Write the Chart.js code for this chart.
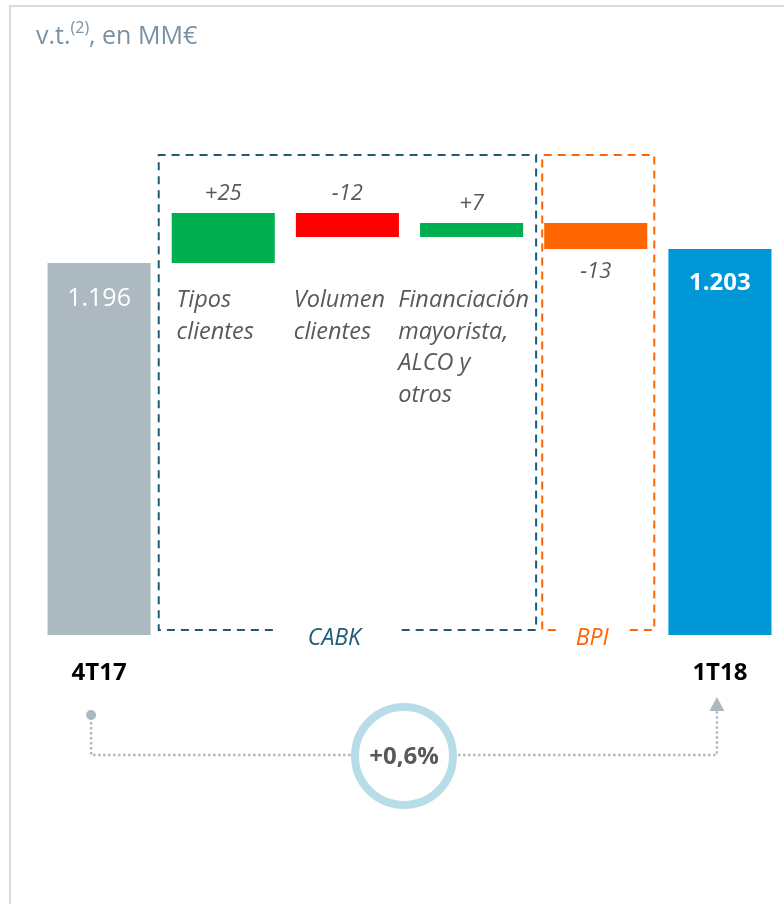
<!DOCTYPE html>
<html>
<head>
<meta charset="utf-8">
<script src="https://cdn.jsdelivr.net/npm/chart.js@4.4.1/dist/chart.umd.min.js"></script>
<style>
  html, body { margin: 0; padding: 0; background: #fff; }
  #wrap { position: relative; width: 784px; height: 904px; }
</style>
</head>
<body>
<div id="wrap"><canvas id="chart" width="784" height="904"></canvas></div>
<script>
// ===============================
// Datos
// ===============================
const categories = ["4T17", "Tipos clientes", "Volumen clientes", "Financiación mayorista, ALCO y otros", "BPI", "1T18"];
const categoryLines = [[], ["Tipos", "clientes"], ["Volumen", "clientes"], ["Financiación", "mayorista,", "ALCO y", "otros"], [], []];
const startValue = 1196;
const endValue = 1203;
const deltas = [25, -12, 7, -13];
const valueLabels = ["1.196", "+25", "-12", "+7", "-13", "1.203"];
const barColors = ["#adb9c1", "#00b050", "#ff0000", "#00b050", "#ff6600", "#0097d7"];
const changeLabel = "+0,6%";
const groupNames = ["CABK", "BPI"];
const groupColors = ["#1f5a78", "#ff6600"];
const groupFrom = [1, 4];
const groupTo = [3, 4];

const axisMin = 1010;
const axisMax = 1260;
const FONT = "'Open Sans', 'Liberation Sans', sans-serif";
const GREY_TXT = "#595959";

// ===============================
// Barras flotantes (cascada)
// ===============================
const floating = [];
let run = startValue;
floating.push([axisMin, startValue]);
deltas.forEach(d => {
  floating.push([run, run + d]);
  run += d;
});
floating.push([axisMin, endValue]);

// ===============================
// Plugin de anotaciones
// ===============================
const annotations = {
  id: "annotations",
  afterDatasetsDraw(chart) {
    const ctx = chart.ctx;
    const x = chart.scales.x;
    const meta = chart.getDatasetMeta(0);
    const area = chart.chartArea;

    ctx.save();

    // marco
    ctx.strokeStyle = "#d9d9d9";
    ctx.lineWidth = 2;
    ctx.beginPath();
    ctx.moveTo(10, 904);
    ctx.lineTo(10, 6);
    ctx.lineTo(784, 6);
    ctx.stroke();

    // titulo
    ctx.fillStyle = "#7891a4";
    ctx.textBaseline = "alphabetic";
    ctx.textAlign = "left";
    ctx.font = "25px " + FONT;
    let tx = 36;
    ctx.fillText("v.t.", tx, 44);
    tx += ctx.measureText("v.t.").width;
    ctx.font = "16px " + FONT;
    ctx.fillText("(2)", tx, 33);
    tx += ctx.measureText("(2)").width;
    ctx.font = "25px " + FONT;
    ctx.fillText(", en MM€", tx, 44);

    // etiquetas de valor
    meta.data.forEach((bar, i) => {
      const top = Math.min(bar.y, bar.base);
      const bottom = Math.max(bar.y, bar.base);
      ctx.textAlign = "center";
      if (i === 0) {
        ctx.fillStyle = "#ffffff";
        ctx.font = "25px " + FONT;
        ctx.fillText(valueLabels[i], bar.x, top + 43);
      } else if (i === meta.data.length - 1) {
        ctx.fillStyle = "#ffffff";
        ctx.font = "bold 24px " + FONT;
        ctx.fillText(valueLabels[i], bar.x, top + 41);
      } else {
        ctx.fillStyle = GREY_TXT;
        ctx.font = "italic 22px " + FONT;
        if (i < 4) {
          ctx.fillText(valueLabels[i], bar.x, top - 13);
        } else {
          ctx.fillText(valueLabels[i], bar.x, bottom + 29);
        }
      }
    });

    // textos de categoria (cursiva)
    ctx.fillStyle = GREY_TXT;
    ctx.font = "italic 23.5px " + FONT;
    ctx.textAlign = "left";
    categoryLines.forEach((lines, i) => {
      if (!lines.length) return;
      const w = Math.max(...lines.map(l => ctx.measureText(l).width));
      const lx = x.getPixelForValue(i) - w / 2 - 8;
      lines.forEach((l, k) => ctx.fillText(l, lx, 307 + k * 31.5));
    });

    // cajas discontinuas
    const boxTop = area.top + 20;
    const boxBottom = area.bottom - 5;
    const half = meta.data[1].width / 2;
    groupNames.forEach((name, g) => {
      const left = g === 0 ? x.getPixelForValue(groupFrom[g]) - half - 13 : x.getPixelForValue(groupFrom[g]) - half - 2;
      const right = g === 0 ? x.getPixelForValue(groupTo[g]) + half + 13 : x.getPixelForValue(groupTo[g]) + half + 7;
      ctx.font = "italic 23px " + FONT;
      const lw = ctx.measureText(name).width;
      const cx = (left + right) / 2 - (g === 0 ? 13 : 6);
      const gap = lw / 2 + (g === 0 ? 35 : 20);
      ctx.strokeStyle = groupColors[g];
      ctx.lineWidth = 2;
      ctx.setLineDash([8, 6]);
      ctx.beginPath();
      ctx.moveTo(cx - gap, boxBottom);
      ctx.lineTo(left, boxBottom);
      ctx.lineTo(left, boxTop);
      ctx.lineTo(right, boxTop);
      ctx.lineTo(right, boxBottom);
      ctx.lineTo(cx + gap, boxBottom);
      ctx.stroke();
      ctx.setLineDash([]);
      ctx.fillStyle = groupColors[g];
      ctx.textAlign = "center";
      ctx.fillText(name, cx, boxBottom + 15);
    });

    // etiquetas de eje
    ctx.fillStyle = "#000000";
    ctx.font = "bold 24px " + FONT;
    ctx.textAlign = "center";
    [0, categories.length - 1].forEach(i => {
      ctx.fillText(categories[i], x.getPixelForValue(i), 680);
    });

    // conector con flecha
    const x0 = x.getPixelForValue(0) - 8;
    const x1 = x.getPixelForValue(categories.length - 1) - 3;
    const lineY = 755;
    ctx.strokeStyle = "#b0bcc4";
    ctx.lineWidth = 2.5;
    ctx.setLineDash([2.5, 2.5]);
    ctx.beginPath();
    ctx.moveTo(x0, 717);
    ctx.lineTo(x0, lineY);
    ctx.lineTo(x1, lineY);
    ctx.lineTo(x1, 710);
    ctx.stroke();
    ctx.setLineDash([]);
    ctx.fillStyle = "#adb9c1";
    ctx.beginPath();
    ctx.arc(x0, 715, 5, 0, Math.PI * 2);
    ctx.fill();
    ctx.beginPath();
    ctx.moveTo(x1, 697);
    ctx.lineTo(x1 + 7.5, 711);
    ctx.lineTo(x1 - 7.5, 711);
    ctx.closePath();
    ctx.fill();

    // circulo con variacion
    const cx = (x0 + x1) / 2;
    const cy = 756;
    ctx.fillStyle = "#ffffff";
    ctx.beginPath();
    ctx.arc(cx, cy, 49, 0, Math.PI * 2);
    ctx.fill();
    ctx.strokeStyle = "#b7dde8";
    ctx.lineWidth = 8;
    ctx.stroke();
    ctx.fillStyle = GREY_TXT;
    ctx.font = "bold 24px " + FONT;
    ctx.textAlign = "center";
    ctx.textBaseline = "middle";
    ctx.fillText(changeLabel, cx, cy + 1);

    ctx.restore();
  }
};

// ===============================
// Grafico
// ===============================
new Chart(document.getElementById("chart").getContext("2d"), {
  type: "bar",
  data: {
    labels: categories,
    datasets: [{
      data: floating,
      backgroundColor: barColors,
      borderWidth: 0,
      borderSkipped: false,
      barPercentage: 0.83,
      categoryPercentage: 1
    }]
  },
  options: {
    responsive: false,
    animation: false,
    layout: { padding: { left: 37, right: 2, top: 135, bottom: 269 } },
    plugins: {
      legend: { display: false },
      tooltip: { enabled: false }
    },
    scales: {
      x: { display: false },
      y: { display: false, min: axisMin, max: axisMax }
    }
  },
  plugins: [annotations]
});
</script>
</body>
</html>
